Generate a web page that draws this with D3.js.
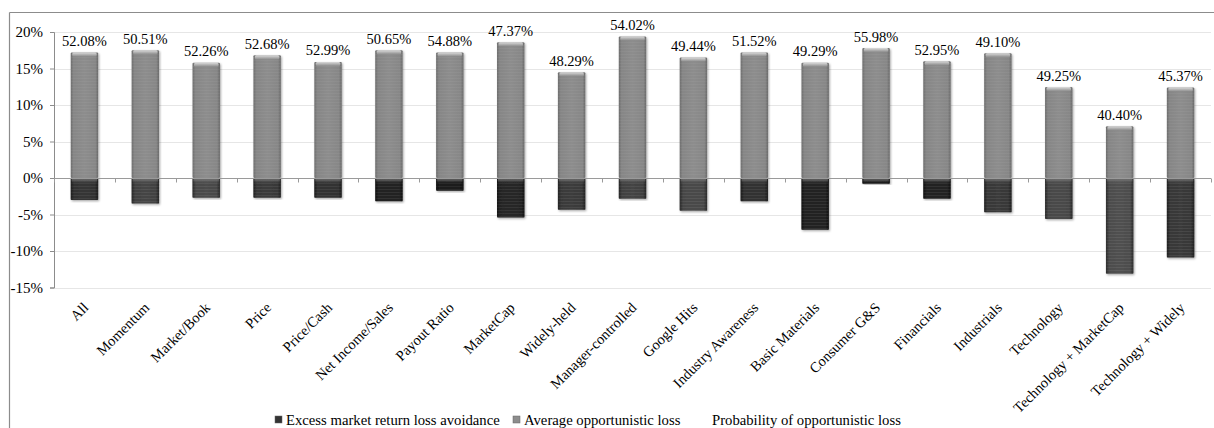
<!DOCTYPE html>
<html>
<head>
<meta charset="utf-8">
<script src="https://cdn.jsdelivr.net/npm/d3@7"></script>
<style>
  body { margin: 0; background: #fff; }
  svg { display: block; }
  text { font-family: "Liberation Serif", "Times New Roman", serif; fill: #000; }
</style>
</head>
<body>
<svg id="chart" width="1214" height="428"></svg>
<script>
// Screening groups
const categories = ["All", "Momentum", "Market/Book", "Price", "Price/Cash", "Net Income/Sales",
  "Payout Ratio", "MarketCap", "Widely-held", "Manager-controlled", "Google Hits",
  "Industry Awareness", "Basic Materials", "Consumer G&S", "Financials", "Industrials",
  "Technology", "Technology + MarketCap", "Technology + Widely"];

// Excess market return loss avoidance (%)
const excessReturn = [-3.0, -3.5, -2.7, -2.7, -2.7, -3.2, -1.75, -5.4, -4.35, -2.85, -4.5,
  -3.2, -7.1, -0.8, -2.85, -4.7, -5.6, -13.1, -10.9];

// Average opportunistic loss (%)
const avgLoss = [17.2, 17.5, 15.8, 16.8, 15.9, 17.5, 17.2, 18.6, 14.5, 19.4, 16.5,
  17.2, 15.8, 17.8, 16.0, 17.1, 12.45, 7.1, 12.4];

// Probability of opportunistic loss (%)
const probLoss = [52.08, 50.51, 52.26, 52.68, 52.99, 50.65, 54.88, 47.37, 48.29, 54.02, 49.44,
  51.52, 49.29, 55.98, 52.95, 49.10, 49.25, 40.40, 45.37];

const yTicks = [-15, -10, -5, 0, 5, 10, 15, 20];
const seriesNames = ["Excess market return loss avoidance", "Average opportunistic loss",
  "Probability of opportunistic loss"];

// Shade of each dark (negative) bar
const excessShade = ["#353535", "#454545", "#4b4b4b", "#3b3b3b", "#333333", "#222222", "#1b1b1b",
  "#262626", "#3c3c3c", "#444444", "#4a4a4a", "#333333", "#232323", "#161616", "#222222",
  "#3a3a3a", "#4a4a4a", "#505050", "#3a3a3a"];

const svg = d3.select("#chart");
const W = 1214, H = 428;
const plot = { left: 54, right: 1211, top: 32, bottom: 287.5 };

const x = d3.scaleBand().domain(categories).range([plot.left, plot.right]).padding(0);
const y = d3.scaleLinear().domain([-15, 20]).range([plot.bottom, plot.top]);
const barW = x.bandwidth() * 0.45;

// ---- defs: gradients, stripes, shadow ----
const defs = svg.append("defs");

const gGrad = defs.append("linearGradient").attr("id", "greyBody").attr("x1", 0).attr("x2", 1).attr("y1", 0).attr("y2", 0);
[[0, "#6c6c6c"], [0.1, "#868686"], [0.5, "#8d8d8d"], [0.9, "#878787"], [1, "#696969"]]
  .forEach(([o, c]) => gGrad.append("stop").attr("offset", o).attr("stop-color", c));

const bevel = defs.append("linearGradient").attr("id", "greyBevel").attr("x1", 0).attr("x2", 0).attr("y1", 0).attr("y2", 1);
[[0, "#dcdcdc"], [0.5, "#b4b4b4"], [1, "#8d8d8d"]]
  .forEach(([o, c]) => bevel.append("stop").attr("offset", o).attr("stop-color", c));

const edge = defs.append("linearGradient").attr("id", "edgeShade").attr("x1", 0).attr("x2", 1).attr("y1", 0).attr("y2", 0);
[[0, 0.45], [0.12, 0.05], [0.5, 0], [0.88, 0.05], [1, 0.45]]
  .forEach(([o, a]) => edge.append("stop").attr("offset", o).attr("stop-color", "#000").attr("stop-opacity", a));

const darkBevel = defs.append("linearGradient").attr("id", "darkBevel").attr("x1", 0).attr("x2", 0).attr("y1", 0).attr("y2", 1);
[[0, "#7a7a7a", 0.7], [1, "#7a7a7a", 0]]
  .forEach(([o, c, a]) => darkBevel.append("stop").attr("offset", o).attr("stop-color", c).attr("stop-opacity", a));

const stripes = defs.append("pattern").attr("id", "stripes").attr("patternUnits", "userSpaceOnUse")
  .attr("width", 4).attr("height", 3);
stripes.append("rect").attr("width", 4).attr("height", 1).attr("fill", "#fff").attr("opacity", 0.07);

const shadow = defs.append("filter").attr("id", "shadow").attr("x", "-20%").attr("y", "-5%").attr("width", "150%").attr("height", "115%");
shadow.append("feDropShadow").attr("dx", 1).attr("dy", 1.2).attr("stdDeviation", 0.9)
  .attr("flood-color", "#000").attr("flood-opacity", 0.35);

// ---- outer frame (left and top edges visible) ----
svg.append("line").attr("x1", 9.5).attr("x2", 9.5).attr("y1", 12.5).attr("y2", H)
  .attr("stroke", "#8c8c8c").attr("stroke-width", 1.2);
svg.append("line").attr("x1", 9.5).attr("x2", W).attr("y1", 12.5).attr("y2", 12.5)
  .attr("stroke", "#8c8c8c").attr("stroke-width", 1.2);

// ---- gridlines ----
svg.append("g").selectAll("line").data(yTicks.filter(t => t !== 0)).join("line")
  .attr("x1", plot.left).attr("x2", plot.right)
  .attr("y1", d => Math.round(y(d)) + 0.5).attr("y2", d => Math.round(y(d)) + 0.5)
  .attr("stroke", "#e6e6e6").attr("stroke-width", 1);

// ---- y axis ----
const yAxis = svg.append("g").attr("transform", `translate(${plot.left},0)`)
  .call(d3.axisLeft(y).tickValues(yTicks).tickSize(4).tickPadding(7).tickFormat(d => d + "%"));
yAxis.select(".domain").attr("stroke", "#8c8c8c");
yAxis.selectAll(".tick line").attr("stroke", "#8c8c8c");
yAxis.selectAll(".tick text").style("font-size", "15px")
  .style("font-family", '"Liberation Serif", serif').attr("fill", "#000");

// ---- bars ----
const bars = svg.append("g");
categories.forEach((c, i) => {
  const bx = x(c) + (x.bandwidth() - barW) / 2;
  // positive: average opportunistic loss
  const y0 = y(0), yTop = y(avgLoss[i]);
  const gp = bars.append("g").attr("filter", "url(#shadow)");
  gp.append("rect").attr("x", bx).attr("y", yTop).attr("width", barW).attr("height", y0 - yTop)
    .attr("rx", 1).attr("fill", "url(#greyBody)");
  gp.append("rect").attr("x", bx).attr("y", yTop).attr("width", barW).attr("height", y0 - yTop)
    .attr("fill", "url(#stripes)").attr("opacity", 0.6);
  gp.append("rect").attr("x", bx + 1.5).attr("y", yTop).attr("width", barW - 3).attr("height", 4)
    .attr("rx", 1.5).attr("fill", "url(#greyBevel)");

  // negative: excess market return loss avoidance
  const yBot = y(excessReturn[i]);
  const gn = bars.append("g").attr("filter", "url(#shadow)");
  gn.append("rect").attr("x", bx).attr("y", y0).attr("width", barW).attr("height", yBot - y0)
    .attr("rx", 1).attr("fill", excessShade[i]);
  gn.append("rect").attr("x", bx).attr("y", y0).attr("width", barW).attr("height", yBot - y0)
    .attr("fill", "url(#stripes)");
  gn.append("rect").attr("x", bx).attr("y", y0).attr("width", barW).attr("height", yBot - y0)
    .attr("fill", "url(#edgeShade)");
  gn.append("rect").attr("x", bx + 1).attr("y", y0 + 1).attr("width", barW - 2).attr("height", 4)
    .attr("fill", "url(#darkBevel)");
});

// ---- zero line with category ticks ----
const xAxis = svg.append("g").attr("transform", `translate(0,${Math.round(y(0)) + 0.5})`);
xAxis.append("line").attr("x1", plot.left).attr("x2", plot.right).attr("stroke", "#9a9a9a");
xAxis.selectAll("line.tk").data(d3.range(categories.length + 1)).join("line").attr("class", "tk")
  .attr("x1", i => Math.round(plot.left + i * x.step()) + 0.5)
  .attr("x2", i => Math.round(plot.left + i * x.step()) + 0.5)
  .attr("y1", 0).attr("y2", 4).attr("stroke", "#9a9a9a");

// ---- probability labels ----
svg.append("g").selectAll("text").data(categories).join("text")
  .attr("x", c => x(c) + x.bandwidth() / 2)
  .attr("y", (c, i) => y(avgLoss[i]) - 6.5)
  .attr("text-anchor", "middle").style("font-size", "14.5px")
  .text((c, i) => probLoss[i].toFixed(2) + "%");

// ---- category labels ----
svg.append("g").selectAll("text").data(categories).join("text")
  .attr("transform", c => `translate(${x(c) + x.bandwidth() / 2 + 5},${plot.bottom + 21}) rotate(-45)`)
  .attr("text-anchor", "end").style("font-size", "14.5px")
  .text(c => c);

// ---- legend ----
const legend = svg.append("g").attr("transform", "translate(0,420)");
const legendX = [275, 513, 701];
const legendFill = ["#333333", "#8d8d8d", null];
seriesNames.forEach((name, i) => {
  if (legendFill[i]) {
    legend.append("rect").attr("x", legendX[i]).attr("y", -4).attr("width", 7).attr("height", 7)
      .attr("fill", legendFill[i]).attr("stroke", "#666").attr("stroke-width", 0.5);
  }
  legend.append("text").attr("x", legendX[i] + 11).attr("y", 5).style("font-size", "14.7px").text(name);
});
</script>
</body>
</html>
